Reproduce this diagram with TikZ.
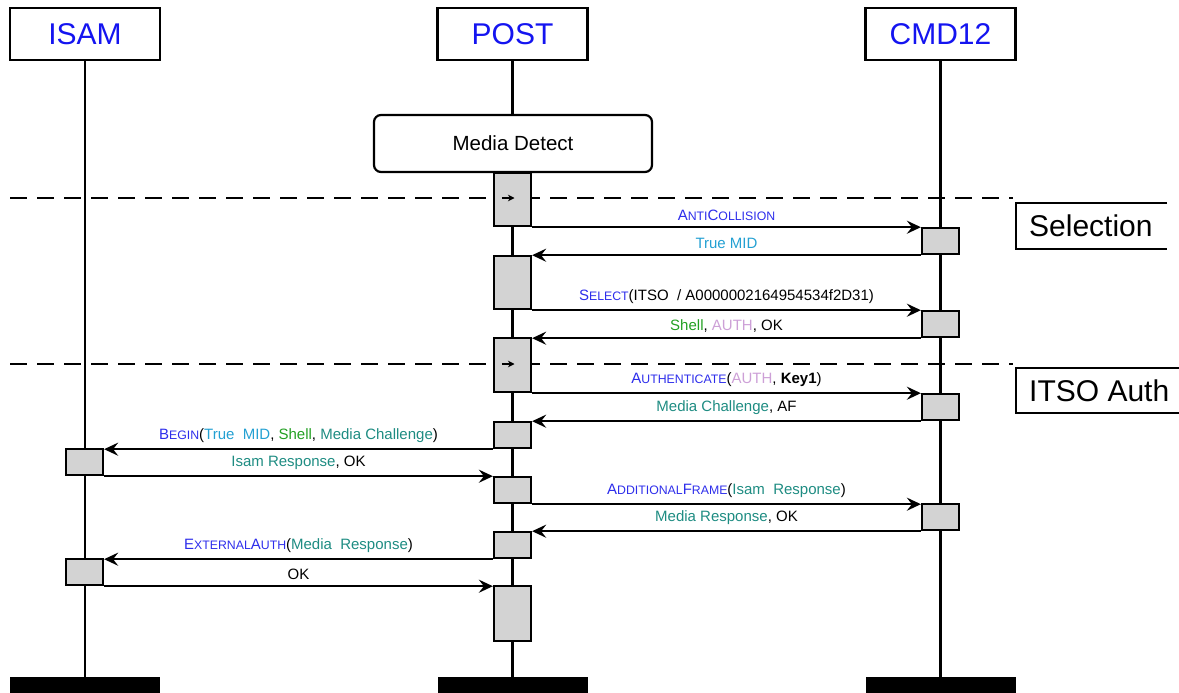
\documentclass[tikz,border=0pt]{standalone}
\usepackage{fontspec}
\setmainfont{Liberation Sans}
\usetikzlibrary{arrows.meta,calc}

\definecolor{hdrblue}{RGB}{20,20,240}
\definecolor{opblue}{RGB}{45,45,235}
\definecolor{midblue}{RGB}{35,160,210}
\definecolor{shellgreen}{RGB}{35,160,35}
\definecolor{authpurple}{RGB}{205,160,215}
\definecolor{mediateal}{RGB}{30,140,130}
\definecolor{actgray}{RGB}{211,211,211}

% fake small capitals for operation names
\newcommand{\smc}[1]{{\fontsize{12.3}{13}\selectfont #1}}

\tikzset{
  hdr/.style={draw, line width=2.2pt, minimum width=150pt, minimum height=52pt,
    inner sep=0pt, font=\fontsize{30}{32}\selectfont, text=hdrblue},
  life/.style={line width=2.2pt},
  act/.style={draw, line width=2.2pt, fill=actgray, minimum width=37pt,
    inner sep=0pt, anchor=north},
  msg/.style={line width=2.2pt, -{Stealth[length=14pt,width=13pt,inset=5pt]}},
  lbl/.style={font=\fontsize{15}{16}\selectfont, inner sep=0pt},
  phase/.style={line width=2.2pt, dash pattern=on 17pt off 10pt},
  phasebox/.style={font=\fontsize{30}{32}\selectfont, inner sep=0pt, anchor=west},
  tick/.style={line width=1.1pt, -{Stealth[length=6.5pt,width=6.5pt,inset=2pt]}},
}

\begin{document}
\begin{tikzpicture}[x=1pt, y=-1pt]
\useasboundingbox (0,0) rectangle (1179,693);

% participants
\node[hdr] (isam) at (85,34) {ISAM};
\node[hdr] (post) at (512.5,34) {POST};
\node[hdr] (cmd)  at (940.5,34) {CMD12};

% lifeline ends
\coordinate (isamEnd) at (85,677);
\coordinate (postEnd) at (512.5,677);
\coordinate (cmdEnd)  at (940.5,677);

% lifelines
\draw[life] (isam.south) -- (isamEnd);
\draw[life] (post.south) -- (postEnd);
\draw[life] (cmd.south) -- (cmdEnd);

% lifeline terminators
\fill (10,677) rectangle (160,700);
\fill (438,677) rectangle (588,700);
\fill (866,677) rectangle (1016,700);

% media detection state
\node[draw, line width=2.2pt, rounded corners=7pt, fill=white, minimum width=278pt,
  minimum height=57pt, font=\fontsize{20.5}{22}\selectfont] (detect) at (513,143.5)
  {\raisebox{-2pt}{Media Detect}};

% phase separators
\draw[phase] (10,198) -- (1013,198);
\draw[phase] (10,364) -- (1013,364);

% phase labels
\draw[line width=2.2pt] (1167,203) -- (1016,203) -- (1016,249) -- (1167,249);
\node[phasebox] (selection) at (1029,226) {Selection};
\draw[line width=2.2pt] (1182,368) -- (1016,368) -- (1016,413) -- (1182,413);
\node[phasebox] (itso) at (1029,391) {ITSO Auth};

% activations on POST
\node[act, minimum height=53pt] (p1) at (512.5,172) {};
\node[act, minimum height=53pt] (p2) at (512.5,255) {};
\node[act, minimum height=54pt] (p3) at (512.5,337) {};
\node[act, minimum height=26pt] (p4) at (512.5,421) {};
\node[act, minimum height=26pt] (p5) at (512.5,476) {};
\node[act, minimum height=26pt] (p6) at (512.5,531) {};
\node[act, minimum height=55pt] (p7) at (512.5,585) {};

% activations on CMD12
\node[act, minimum height=26pt] (c1) at (940.5,227) {};
\node[act, minimum height=26pt] (c2) at (940.5,310) {};
\node[act, minimum height=26pt] (c3) at (940.5,393) {};
\node[act, minimum height=26pt] (c4) at (940.5,503) {};

% activations on ISAM
\node[act, minimum height=26pt] (i1) at (84.5,448) {};
\node[act, minimum height=26pt] (i2) at (84.5,558) {};

% phase entry marks inside POST
\coordinate (t1a) at ($(p1.west |- 0,198)+(9,0)$);
\coordinate (t1b) at ($(p1.center |- 0,198)+(2,0)$);
\draw[tick] (t1a) -- (t1b);
\coordinate (t2a) at ($(p3.west |- 0,364)+(9,0)$);
\coordinate (t2b) at ($(p3.center |- 0,364)+(2,0)$);
\draw[tick] (t2a) -- (t2b);

% messages
\draw[msg] (p1.south east) -- (p1.south east -| c1.west)
  node[lbl, midway, above=5pt] {\textcolor{opblue}{A\smc{NTI}C\smc{OLLISION}}};
\draw[msg] (c1.south west) -- (c1.south west -| p2.east)
  node[lbl, midway, above=5pt] {\textcolor{midblue}{True MID}};
\draw[msg] (p2.south east) -- (p2.south east -| c2.west)
  node[lbl, midway, above=5pt] {\textcolor{opblue}{S\smc{ELECT}}(ITSO\ \ / A0000002164954534f2D31)};
\draw[msg] (c2.south west) -- (c2.south west -| p3.east)
  node[lbl, midway, above=5pt] {\textcolor{shellgreen}{Shell}, \textcolor{authpurple}{AUTH}, OK};
\draw[msg] (p3.south east) -- (p3.south east -| c3.west)
  node[lbl, midway, above=5pt] {\textcolor{opblue}{A\smc{UTHENTICATE}}(\textcolor{authpurple}{AUTH}, \textbf{Key1})};
\draw[msg] (c3.south west) -- (c3.south west -| p4.east)
  node[lbl, midway, above=5pt] {\textcolor{mediateal}{Media Challenge}, AF};
\draw[msg] (p4.south west) -- (p4.south west -| i1.east)
  node[lbl, midway, above=5pt] {\textcolor{opblue}{B\smc{EGIN}}(\textcolor{midblue}{True\ \ MID}, \textcolor{shellgreen}{Shell}, \textcolor{mediateal}{Media Challenge})};
\draw[msg] (i1.south east) -- (i1.south east -| p5.west)
  node[lbl, midway, above=5pt] {\textcolor{mediateal}{Isam Response}, OK};
\draw[msg] (p5.south east) -- (p5.south east -| c4.west)
  node[lbl, midway, above=5pt] {\textcolor{opblue}{A\smc{DDITIONAL}F\smc{RAME}}(\textcolor{mediateal}{Isam\ \ Response})};
\draw[msg] (c4.south west) -- (c4.south west -| p6.east)
  node[lbl, midway, above=5pt] {\textcolor{mediateal}{Media Response}, OK};
\draw[msg] (p6.south west) -- (p6.south west -| i2.east)
  node[lbl, midway, above=5pt] {\textcolor{opblue}{E\smc{XTERNAL}A\smc{UTH}}(\textcolor{mediateal}{Media\ \ Response})};
\draw[msg] (i2.south east) -- (i2.south east -| p7.west)
  node[lbl, midway, above=5pt] {OK};
\end{tikzpicture}
\end{document}
